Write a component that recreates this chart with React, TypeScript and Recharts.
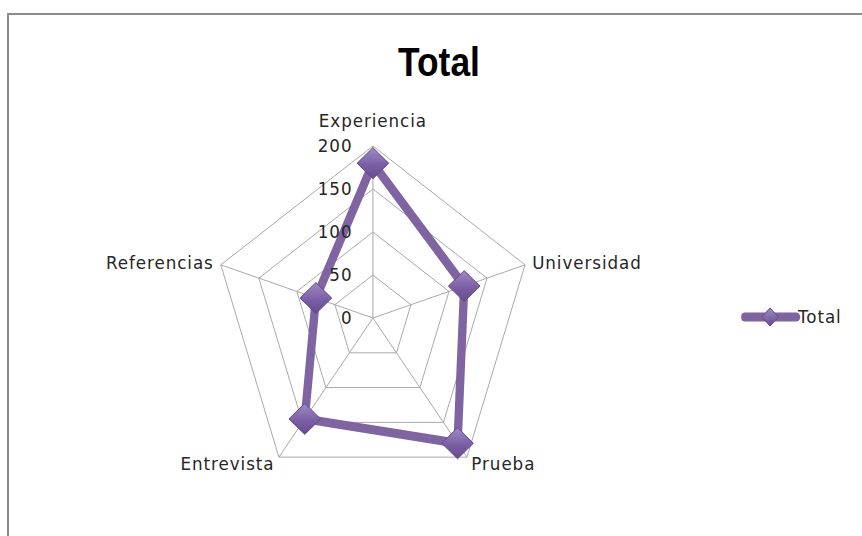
import React from 'react';
import { RadarChart, Radar, PolarGrid, PolarAngleAxis, PolarRadiusAxis, Legend } from 'recharts';

const categories = ['Experiencia', 'Universidad', 'Prueba', 'Entrevista', 'Referencias'];
const totals = [180, 120, 180, 145, 75];
const radiusTicks = [0, 50, 100, 150, 200];
const seriesName = 'Total';
const chartTitle = 'Total';

const data = categories.map((c, i) => ({ category: c, total: totals[i] }));

const SX = 0.93;
const W = 862 / SX;
const H = 536;
const LINE = '#8064A2';
const FONT = '"DejaVu Sans", Verdana, sans-serif';

const AngleTick = (props: any) => {
  const { x, y, textAnchor, payload } = props;
  const isTop = Math.abs(payload.coordinate - 90) < 1;
  return (
    <text
      x={x}
      y={isTop ? y - 17 : y}
      textAnchor={textAnchor}
      dominantBaseline="central"
      fontFamily={FONT}
      fontSize={18}
      letterSpacing={1}
      fill="#262626"
    >
      {payload.value}
    </text>
  );
};

const RadiusTick = (props: any) => {
  const { x, y, payload } = props;
  return (
    <text
      x={x - 22}
      y={y}
      textAnchor="end"
      dominantBaseline="central"
      fontFamily={FONT}
      fontSize={18}
      letterSpacing={1}
      fill="#262626"
    >
      {payload.value}
    </text>
  );
};

const Diamond = (props: any) => {
  const { cx, cy, index } = props;
  const hw = 17;
  const hh = 15.5;
  return (
    <path
      key={`d-${index}`}
      d={`M${cx},${cy - hh} L${cx + hw},${cy} L${cx},${cy + hh} L${cx - hw},${cy} Z`}
      fill="url(#diamondGrad)"
      stroke="#5f4787"
      strokeWidth={1}
    />
  );
};

const LegendContent = () => (
  <svg width={120} height={30}>
    <defs>
      <linearGradient id="legGrad" x1="0" y1="0" x2="0" y2="1">
        <stop offset="0%" stopColor="#a08bc4" />
        <stop offset="100%" stopColor="#654b91" />
      </linearGradient>
    </defs>
    <line x1={4} y1={15} x2={59} y2={15} stroke={LINE} strokeWidth={9} strokeLinecap="round" />
    <path d="M31,6 L40,15 L31,24 L22,15 Z" fill="url(#legGrad)" stroke="#5f4787" strokeWidth={1} />
    <text x={61} y={15} dominantBaseline="central" fontFamily={FONT} fontSize={18} letterSpacing={1} fill="#262626">
      {seriesName}
    </text>
  </svg>
);

export default function App() {
  return (
    <div style={{ position: 'fixed', left: 0, top: 0, width: 862, height: 536, overflow: 'hidden', background: '#fff' }}>
      <div
        style={{
          position: 'absolute',
          left: 7,
          top: 13,
          width: 900,
          height: 600,
          borderLeft: '2px solid #8c8c8c',
          borderTop: '2px solid #8c8c8c',
        }}
      />
      <div style={{ position: 'absolute', left: 0, top: 0, width: W, height: H, transform: `scaleX(${SX})`, transformOrigin: '0 0' }}>
        <svg style={{ position: 'absolute', left: 0, top: 0 }} width={W} height={100}>
          <text
            x={472}
            y={76}
            textAnchor="middle"
            fontFamily='"Liberation Sans Narrow", "Liberation Sans", Arial, sans-serif'
            fontWeight="bold"
            fontSize={41}
            textLength={88}
            lengthAdjust="spacingAndGlyphs"
            fill="#000"
          >
            {chartTitle}
          </text>
        </svg>
        <div style={{ position: 'absolute', left: 0, top: 0 }}>
          <RadarChart
            width={W}
            height={H}
            data={data}
            cx={401}
            cy={318}
            outerRadius={172}
            margin={{ top: 0, right: 0, bottom: 0, left: 0 }}
          >
            <defs>
              <linearGradient id="diamondGrad" x1="0" y1="0" x2="0" y2="1">
                <stop offset="0%" stopColor="#a08bc4" />
                <stop offset="55%" stopColor="#7b5fa5" />
                <stop offset="100%" stopColor="#654b91" />
              </linearGradient>
            </defs>
            <PolarGrid gridType="polygon" stroke="#a6a6a6" strokeWidth={1} />
            <PolarAngleAxis dataKey="category" tick={AngleTick} tickLine={false} axisLine={false} />
            <PolarRadiusAxis
              angle={90}
              domain={[0, 200]}
              ticks={radiusTicks as any}
              tickCount={5}
              tick={RadiusTick}
              axisLine={false}
              tickLine={false}
            />
            <Radar
              name={seriesName}
              dataKey="total"
              stroke={LINE}
              strokeWidth={9}
              strokeLinejoin="round"
              fill="none"
              fillOpacity={0}
              dot={Diamond}
              isAnimationActive={false}
            />
            <Legend
              layout="vertical"
              align="right"
              verticalAlign="middle"
              content={LegendContent}
              wrapperStyle={{ position: 'absolute', left: 797, top: 302, width: 120, height: 30 }}
            />
          </RadarChart>
        </div>
      </div>
    </div>
  );
}
